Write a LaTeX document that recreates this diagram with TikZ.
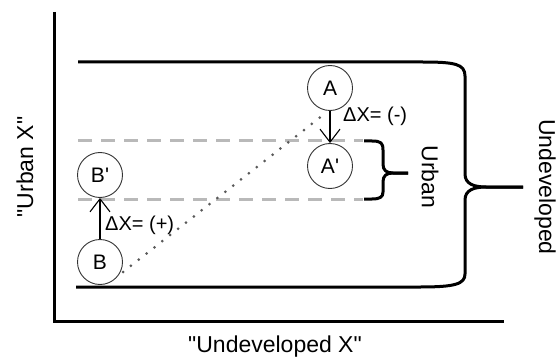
\documentclass[tikz,border=0pt]{standalone}
\usepackage{fontspec}
\setmainfont{Liberation Sans}
\usetikzlibrary{arrows.meta}
\newcommand{\sq}{\XeTeXglyph\XeTeXcharglyph"22\relax}
\newcommand{\pr}{\XeTeXglyph\XeTeXcharglyph"27\relax}
\begin{document}
\begin{tikzpicture}[x=1pt,y=-1pt,
  axis/.style={line width=3pt,black},
  band/.style={line width=3pt,black,line join=round},
  guide/.style={line width=3pt,gray!55,dash pattern=on 14pt off 9pt},
  state/.style={circle,draw=black!80,line width=0.9pt,minimum size=45pt,inner sep=0pt,font=\fontsize{21}{21}\selectfont},
  move/.style={line width=1.1pt,-{Straight Barb[length=13pt,width=20pt,line width=1.1pt]}},
  path/.style={line width=3pt,black!65,dash pattern=on 0pt off 10pt,line cap=round},
  small/.style={font=\fontsize{20}{20}\selectfont,inner sep=0pt},
  big/.style={font=\fontsize{23}{23}\selectfont,inner sep=0pt}]
\useasboundingbox (0,0) rectangle (556,358);
% axes
\coordinate (ytop) at (54,12);
\coordinate (orig) at (54,321);
\coordinate (xend) at (504,321);
\draw[axis,line join=miter] (ytop) -- (orig) -- (xend);
\node[big,rotate=90] (ylab) at (25,167) {\sq Urban X\sq};
\node[big] (xlab) at (275,347) {\sq Undeveloped X\sq};
% dashed urban limits
\coordinate (d1a) at (78,141);
\coordinate (d1b) at (363,141);
\coordinate (d2a) at (78,199);
\coordinate (d2b) at (363,199);
\draw[guide] (d1a) -- (d1b);
\draw[guide] (d2a) -- (d2b);
% undeveloped band with brace
\coordinate (topL) at (78,62);
\coordinate (botL) at (76,287);
\coordinate (utip) at (523,187);
\draw[band] (topL) -- (422,62) .. controls (455,62) and (465,64) .. (465,76)
  -- (465,174) .. controls (465,184) and (474,187) .. (486,187) -- (utip);
\draw[band] (utip) -- (486,187) .. controls (474,187) and (465,190) .. (465,200)
  -- (465,274) .. controls (465,284) and (455,287) .. (420,287) -- (botL);
% urban brace
\coordinate (btip) at (408,173);
\draw[band] (364,141) -- (372,141) .. controls (381,141) and (383,143) .. (383,150)
  -- (383,164) .. controls (383,170) and (386,173) .. (393,173) -- (btip);
\draw[band] (btip) -- (393,173) .. controls (386,173) and (383,176) .. (383,182)
  -- (383,192) .. controls (383,197) and (380,199) .. (372,199) -- (364,199);
\node[big,rotate=-90] (urb) at (430,177) {Urban};
\node[big,rotate=-90] (und) at (545,187) {Undeveloped};
% states
\node[state,fill=white] (A) at (330,88) {A};
\node[state,fill=white] (Ap) at (330,166) {A\pr};
\node[state,fill=white] (Bp) at (100,175) {B\pr};
\node[state,fill=white] (B) at (100,262) {B};
% trajectory
\coordinate (p0) at (123,272);
\coordinate (p1) at (327,112);
\draw[path] (p0) -- (p1);
% moves
\draw[move] (A) -- (Ap);
\draw[move] (B) -- (Bp);
\node[small,anchor=west] (dA) at (343,116) {ΔX= (-)};
\node[small,anchor=west] (dB) at (105,225) {ΔX= (+)};
\end{tikzpicture}
\end{document}
